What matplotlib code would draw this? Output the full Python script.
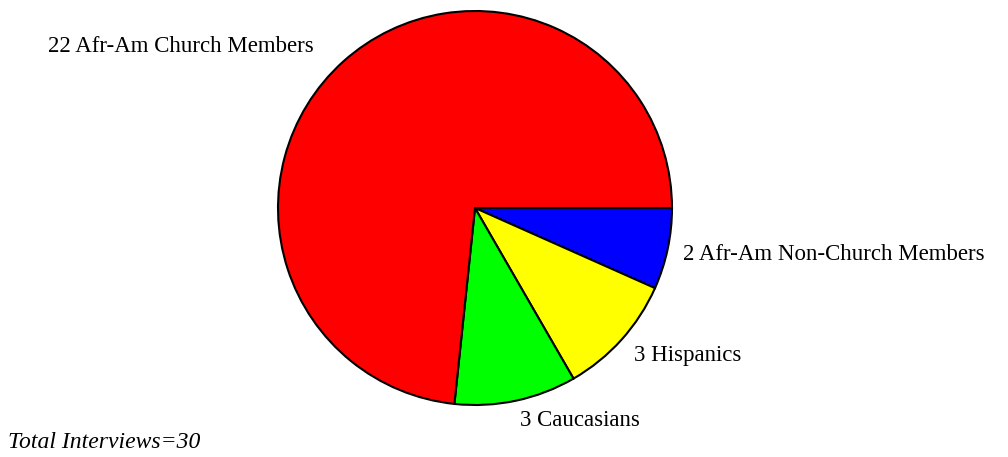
import matplotlib
matplotlib.use('Agg')
import matplotlib.pyplot as plt

# Interview counts, drawn clockwise from 3 o'clock
labels = ['2 Afr-Am Non-Church Members', '3 Hispanics', '3 Caucasians', '22 Afr-Am Church Members']
counts = [2, 3, 3, 22]
colors = ['#0000ff', '#ffff00', '#00ff00', '#ff0000']

W, H = 1008, 457
fig = plt.figure(figsize=(W / 100, H / 100), dpi=100)
plt.rcParams['font.family'] = ['Liberation Serif', 'DejaVu Serif']

# pie centre ~ (475, 208) px, radius ~197 px
cx, cy, r = 475, 208, 197
ax = fig.add_axes([(cx - r) / W, (H - cy - r) / H, 2 * r / W, 2 * r / H])
ax.pie(counts, colors=colors, startangle=0, counterclock=False,
       wedgeprops=dict(edgecolor='black', linewidth=1.5))
ax.set_xlim(-1, 1)
ax.set_ylim(-1, 1)
ax.set_aspect('equal')
ax.axis('off')

# label anchors in pixels (left edge, vertical centre)
label_pos = {
    '22 Afr-Am Church Members': (48, 47),
    '2 Afr-Am Non-Church Members': (683, 254),
    '3 Hispanics': (634, 355),
    '3 Caucasians': (520, 421),
}
for lab in labels:
    x, y = label_pos[lab]
    fig.text(x / W, 1 - y / H, lab, fontsize=16.5, ha='left', va='center')

fig.text(8 / W, 1 - 442 / H, 'Total Interviews=30', fontsize=17, style='italic',
         ha='left', va='center')

fig.savefig('out.png', dpi=100)
